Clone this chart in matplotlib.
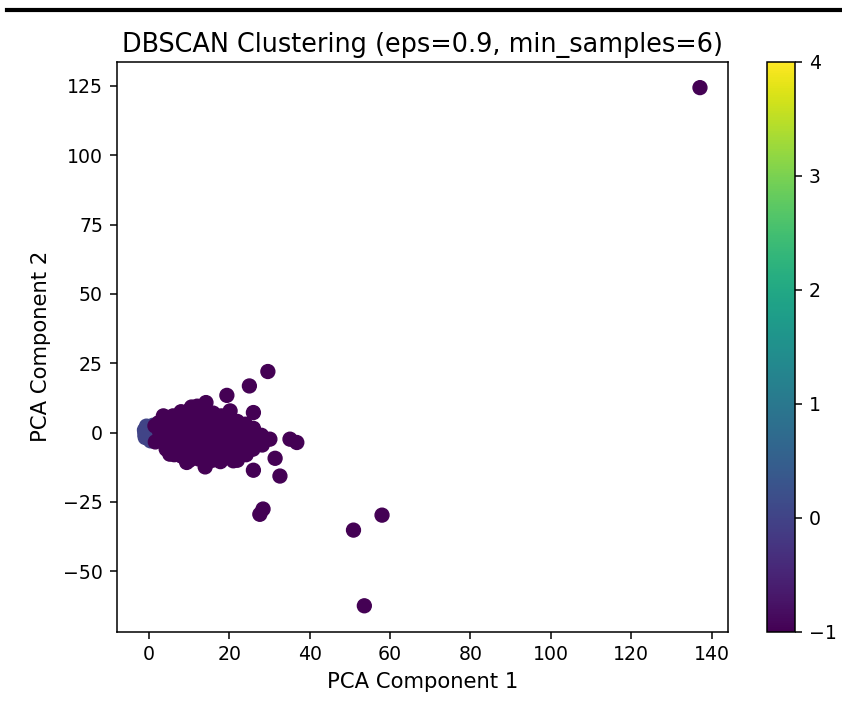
import numpy as np
import matplotlib
matplotlib.use('Agg')
import matplotlib.pyplot as plt
from matplotlib.lines import Line2D

# DBSCAN result in PCA space
# hidden small clusters (labels 1..4) sit under the noise points
hidden_x = [6.0, 10.0, 14.0, 18.0]
hidden_y = [0.0, -1.5, -2.0, -1.0]
hidden_labels = [1, 2, 3, 4]

# cluster 0, packed round the origin
core_x = [-1.0, -1.1, -0.8, -0.5, 0.0, 0.3, -1.0, 0.5, 0.8, -0.2, 0.2, -0.9, 1.0, -0.6, 0.4]
core_y = [0.3, 0.9, -0.6, 1.6, -1.5, 0.2, -0.9, 2.0, -1.2, 0.0, -2.4, -1.8, 2.6, 2.3, -3.0]

# noise points (label -1)
noise_x = [
    137.1, 29.6, 25.0, 19.4, 14.2, 10.6, 20.2, 26.0, 23.5, 30.1, 35.1, 36.8,
    31.4, 32.6, 26.0, 21.0, 14.0, 9.4, 5.2, 1.6, 1.5, 3.6, 6.9, 10.2,
    28.4, 27.6, 50.9, 58.0, 53.6,
    2.4, 2.6, 2.4,
    4.0, 4.2, 3.9, 4.1, 4.3,
    6.0, 6.2, 6.0, 5.8, 6.1, 6.3,
    8.0, 7.8, 8.1, 8.2, 7.9, 8.1,
    10.0, 10.2, 9.8, 10.0, 10.3, 9.9, 10.1,
    12.0, 11.8, 12.2, 12.0, 11.9, 12.1, 12.3,
    14.0, 14.2, 13.8, 14.0, 14.1, 13.9, 14.2,
    16.0, 16.2, 15.9, 16.1, 16.0, 15.8,
    18.0, 18.1, 17.9, 18.0, 18.2, 17.8,
    20.0, 20.2, 19.9, 20.1, 20.0,
    22.0, 22.1, 21.9, 22.2, 22.0,
    24.0, 24.1, 23.9, 24.2,
    26.0, 26.1, 25.9,
    28.0, 28.2,
]
noise_y = [
    124.4, 22.0, 16.8, 13.4, 10.8, 9.2, 7.8, 7.2, 0.6, -2.4, -2.4, -3.6,
    -9.3, -15.7, -13.6, -10.2, -12.4, -10.8, -7.8, -3.4, 2.4, 6.0, 4.8, 7.8,
    -27.6, -29.5, -35.2, -29.8, -62.5,
    3.5, 0.5, -2.5,
    5.0, 2.0, -1.0, -4.0, -6.0,
    6.0, 3.0, 0.0, -3.0, -6.0, -8.0,
    7.5, 4.5, 1.0, -2.0, -5.0, -8.5,
    8.0, 5.0, 2.0, -1.5, -4.5, -7.5, -10.0,
    9.5, 6.0, 3.0, -0.5, -3.5, -6.5, -9.5,
    8.0, 4.5, 1.5, -2.0, -5.0, -8.0, -11.0,
    7.0, 4.0, 0.5, -3.0, -6.5, -10.0,
    6.0, 2.5, -1.0, -4.0, -7.5, -10.5,
    5.5, 2.0, -2.0, -5.0, -8.5,
    4.0, 0.0, -3.5, -7.0, -10.0,
    3.0, -1.0, -4.5, -8.0,
    1.5, -2.5, -6.0,
    -1.0, -4.5,
]

x = np.array(hidden_x + core_x + noise_x)
y = np.array(hidden_y + core_y + noise_y)
labels = np.array(hidden_labels + [0] * len(core_x) + [-1] * len(noise_x))

k = 1.38  # reference is a scaled-up screenshot
plt.rcParams.update({
    'font.size': 13.6,
    'axes.linewidth': 0.8 * k,
    'xtick.major.size': 3.5 * k,
    'ytick.major.size': 3.5 * k,
    'xtick.major.width': 0.8 * k,
    'ytick.major.width': 0.8 * k,
    'xtick.major.pad': 3.5 * k,
    'ytick.major.pad': 5.0,
})

fig = plt.figure(figsize=(8.42, 7.07), dpi=100)
ax = fig.add_axes([0.1386, 0.1065, 0.7257, 0.8062])
cax = fig.add_axes([0.9106, 0.1065, 0.0336, 0.8062])

sc = ax.scatter(x, y, c=labels, cmap='viridis', s=100)
ax.set_title('DBSCAN Clustering (eps=0.9, min_samples=6)', fontsize=18.4, pad=7)
ax.set_xlabel('PCA Component 1', fontsize=15.2, labelpad=6)
ax.set_ylabel('PCA Component 2', fontsize=15.2, labelpad=9)

cb = fig.colorbar(sc, cax=cax)
cb.outline.set_linewidth(0.8 * k)

# black rule at the top of the screenshot
fig.add_artist(Line2D([0.008, 1.0], [0.986, 0.986], color='black', lw=3.0,
                      transform=fig.transFigure))

fig.savefig('out.png', dpi=100)
